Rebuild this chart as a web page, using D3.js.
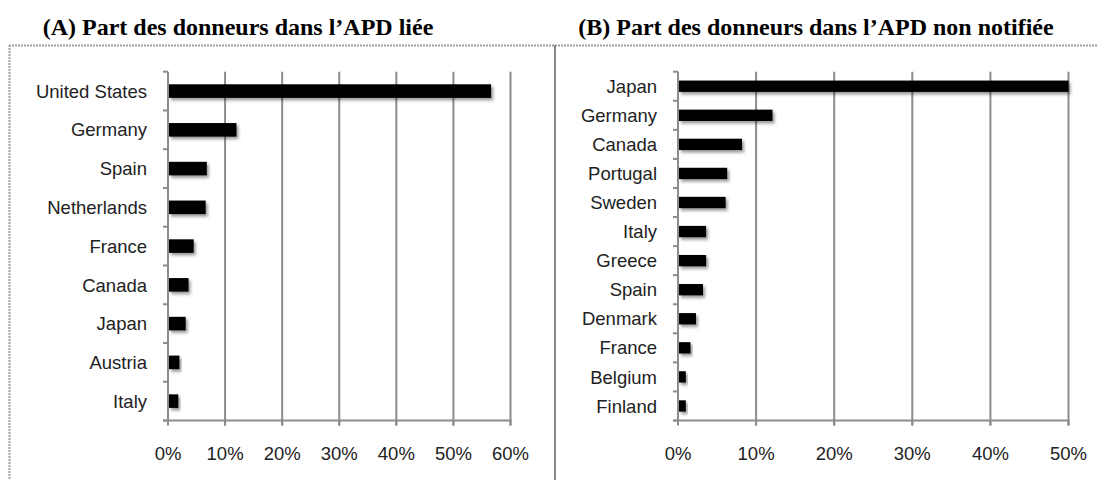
<!DOCTYPE html>
<html lang="fr">
<head>
<meta charset="utf-8">
<script src="https://cdn.jsdelivr.net/npm/d3@7"></script>
<style>
  body { margin: 0; background: #fff; }
  svg text { font-family: "Liberation Sans", Arial, sans-serif; fill: #222; }
  .title { font-family: "Liberation Serif", "Times New Roman", serif !important; font-weight: bold; fill: #000 !important; }
</style>
</head>
<body>
<svg id="chart"></svg>
<script>
// panel A : part des donneurs dans l'APD liée (%)
var donorsA = ['United States','Germany','Spain','Netherlands','France','Canada','Japan','Austria','Italy'];
var valuesA = [56.6, 12.0, 6.8, 6.6, 4.5, 3.6, 3.1, 2.0, 1.8];
var ticksA = [0, 10, 20, 30, 40, 50, 60];

// panel B : part des donneurs dans l'APD non notifiée (%)
var donorsB = ['Japan','Germany','Canada','Portugal','Sweden','Italy','Greece','Spain','Denmark','France','Belgium','Finland'];
var valuesB = [50, 12.1, 8.2, 6.3, 6.1, 3.6, 3.6, 3.2, 2.3, 1.6, 1.0, 1.0];
var ticksB = [0, 10, 20, 30, 40, 50];

var W = 1098, H = 480;
var svg = d3.select('#chart').attr('width', W).attr('height', H);

var defs = svg.append('defs');
defs.append('filter').attr('id','shadow')
    .attr('x','-10%').attr('y','-40%').attr('width','130%').attr('height','200%')
  .append('feDropShadow')
    .attr('dx',2).attr('dy',2.5).attr('stdDeviation',1.8)
    .attr('flood-color','#000').attr('flood-opacity',0.4);

// frames
svg.append('line').attr('x1',9).attr('x2',W).attr('y1',45.5).attr('y2',45.5)
   .attr('stroke','#a0a0a0').attr('stroke-width',2).attr('stroke-dasharray','2,1');
svg.append('line').attr('x1',9.5).attr('x2',9.5).attr('y1',45).attr('y2',H)
   .attr('stroke','#a0a0a0').attr('stroke-width',2).attr('stroke-dasharray','2,1');
svg.append('line').attr('x1',555).attr('x2',555).attr('y1',45).attr('y2',H)
   .attr('stroke','#888').attr('stroke-width',2);

var draw = function(cfg){
  var xScale = d3.scaleLinear()
                 .domain([0, d3.max(cfg.ticks)])
                 .range([cfg.x0, cfg.x1])
                 .clamp(true);
  var yScale = d3.scaleBand()
                 .domain(cfg.donors)
                 .range([cfg.y0, cfg.y1])
                 .paddingInner(cfg.pad)
                 .paddingOuter(cfg.pad / 2);
  var step = yScale.step();
  var g = svg.append('g');

  // title
  g.append('text').classed('title', true)
   .attr('x', cfg.titleX).attr('y', 35)
   .attr('text-anchor','middle')
   .style('font-size','24px')
   .text(cfg.title);

  // gridlines
  g.selectAll('.grid')
   .data(cfg.ticks.slice(1))
   .enter().append('line')
   .attr('x1', function(d){return xScale(d)})
   .attr('x2', function(d){return xScale(d)})
   .attr('y1', cfg.y0)
   .attr('y2', cfg.y1 + 5)
   .attr('stroke','#8c8c8c').attr('stroke-width',2);

  // bars
  g.selectAll('.bar')
   .data(cfg.values)
   .enter().append('rect')
   .attr('x', xScale(0) + 1)
   .attr('y', function(d,i){return yScale(cfg.donors[i])})
   .attr('width', function(d){return xScale(d) - xScale(0) - 1})
   .attr('height', yScale.bandwidth())
   .attr('fill','#000')
   .attr('filter','url(#shadow)');

  // x axis
  g.append('line')
   .attr('x1', cfg.x0 - 5).attr('x2', cfg.x1 + 1)
   .attr('y1', cfg.y1).attr('y2', cfg.y1)
   .attr('stroke','#8c8c8c').attr('stroke-width',2);
  g.selectAll('.xtick')
   .data(cfg.ticks)
   .enter().append('line')
   .attr('x1', function(d){return xScale(d)})
   .attr('x2', function(d){return xScale(d)})
   .attr('y1', cfg.y1).attr('y2', cfg.y1 + 5)
   .attr('stroke','#8c8c8c').attr('stroke-width',2);
  g.selectAll('.xlabel')
   .data(cfg.ticks)
   .enter().append('text')
   .attr('x', function(d){return xScale(d)})
   .attr('y', cfg.y1 + 39)
   .attr('text-anchor','middle')
   .style('font-size','18.5px')
   .text(function(d){return d + '%'});

  // y axis
  g.append('line')
   .attr('x1', cfg.x0).attr('x2', cfg.x0)
   .attr('y1', cfg.y0).attr('y2', cfg.y1)
   .attr('stroke','#8c8c8c').attr('stroke-width',2);
  g.selectAll('.ytick')
   .data(d3.range(cfg.donors.length + 1))
   .enter().append('line')
   .attr('x1', cfg.x0 - 5).attr('x2', cfg.x0)
   .attr('y1', function(d){return cfg.y0 + d * step})
   .attr('y2', function(d){return cfg.y0 + d * step})
   .attr('stroke','#8c8c8c').attr('stroke-width',2);
  g.selectAll('.ylabel')
   .data(cfg.donors)
   .enter().append('text')
   .attr('x', cfg.x0 - 21)
   .attr('y', function(d){return yScale(d) + yScale.bandwidth() / 2})
   .attr('dy','0.36em')
   .attr('text-anchor','end')
   .style('font-size','18.5px')
   .text(function(d){return d});
};

draw({
  title: '(A) Part des donneurs dans l\u2019APD liée', titleX: 238,
  donors: donorsA, values: valuesA, ticks: ticksA,
  x0: 168, x1: 510.5, y0: 71.7, y1: 420.5, pad: 0.65
});
draw({
  title: '(B) Part des donneurs dans l\u2019APD non notifiée', titleX: 816,
  donors: donorsB, values: valuesB, ticks: ticksB,
  x0: 678, x1: 1068.5, y0: 71.7, y1: 420.5, pad: 0.61
});
</script>
</body>
</html>
